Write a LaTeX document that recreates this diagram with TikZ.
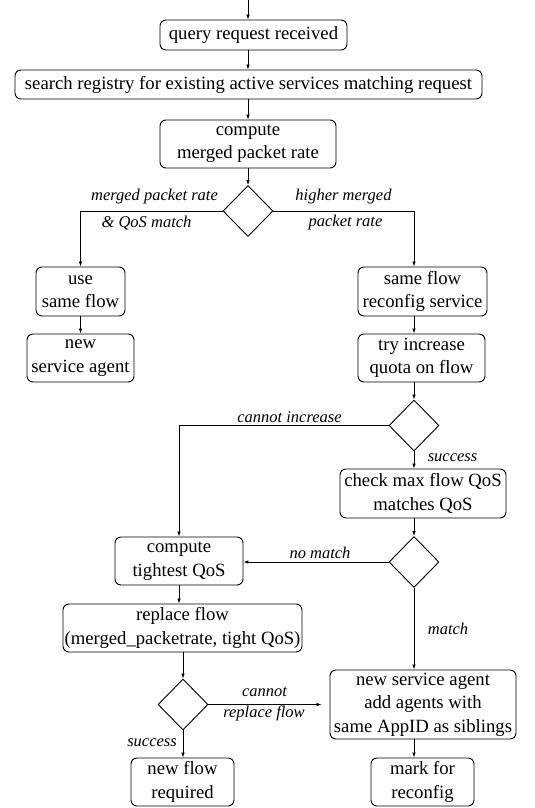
\documentclass[tikz,border=0pt]{standalone}
\usepackage{fontspec}
\setmainfont{Liberation Serif}
\usetikzlibrary{shapes.geometric,arrows.meta}
\begin{document}
\begin{tikzpicture}[x=1pt,y=-1pt,
  box/.style={draw,rounded corners=6pt,line width=0.9pt,inner sep=0pt,align=center,
    font=\fontsize{18.7}{23.5}\selectfont},
  dec/.style={draw,diamond,line width=0.9pt,inner sep=0pt,minimum width=50pt,minimum height=51pt},
  conn/.style={line width=0.7pt,-{Latex[length=5pt,width=3.5pt]}},
  lbl/.style={font=\fontsize{16.5}{20}\selectfont\itshape,inner sep=0pt}]
\useasboundingbox (0,0) rectangle (535,808);
\coordinate (top) at (248,0);
\node[box,minimum width=187pt,minimum height=30pt] (q) at (253.5,35) {query request received};
\node[box,minimum width=467pt,minimum height=29pt] (s) at (248.5,84.5) {search registry for existing active services matching request};
\node[box,minimum width=176pt,minimum height=48pt] (c) at (248,144) {compute\\ merged packet rate};
\node[dec] (d1) at (248,211) {};
\node[box,minimum width=89pt,minimum height=49pt] (use) at (80.5,291.5) {use\\same flow};
\node[box,minimum width=107pt,minimum height=48pt] (nsa1) at (80.5,358) {new\\service agent};
\node[box,minimum width=129pt,minimum height=49pt] (sf) at (422.5,291.5) {same flow\\reconfig service};
\node[box,minimum width=127pt,minimum height=48pt] (ti) at (421.5,358) {try increase\\quota on flow};
\node[dec] (d2) at (414,425.5) {};
\node[box,minimum width=166pt,minimum height=49pt] (cm) at (423,493.5) {check max flow QoS\\matches QoS};
\node[dec] (d3) at (414,562) {};
\node[box,minimum width=128pt,minimum height=48pt] (ct) at (179,561) {compute\\tightest QoS};
\node[box,minimum width=239pt,minimum height=48pt] (rf) at (182.5,628) {replace flow\\(merged\_packetrate, tight QoS)};
\node[dec] (d4) at (183,704.5) {};
\node[box,minimum width=103pt,minimum height=48pt] (nf) at (182.5,782) {new flow\\required};
\node[box,minimum width=186pt,minimum height=69pt] (nsa2) at (423,704.5) {new service agent\\add agents with\\same AppID as siblings};
\node[box,minimum width=103pt,minimum height=48pt] (mr) at (422.5,782) {mark for\\reconfig};
% connectors
\draw[conn] (top) -- (top |- q.north);
\draw[conn] (top |- q.south) -- (top |- s.north);
\draw[conn] (top |- s.south) -- (top |- c.north);
\draw[conn] (c.south) -- (d1.north);
\draw[conn] (d1.west) -| (use.north);
\draw[conn] (d1.east) -| (d2.north |- sf.north);
\draw[conn] (use.south) -- (use.south |- nsa1.north);
\draw[conn] (d2.north |- sf.south) -- (d2.north |- ti.north);
\draw[conn] (d2.north |- ti.south) -- (d2.north);
\draw[conn] (d2.west) -| (ct.north);
\draw[conn] (d2.south) -- (d2.south |- cm.north);
\draw[conn] (d3.north |- cm.south) -- (d3.north);
\draw[conn] (d3.west) -- (d3.west -| ct.east);
\draw[conn] (d3.south) -- (d3.south |- nsa2.north);
\draw[conn] (ct.south) -- (ct.south |- rf.north);
\draw[conn] (d4.north |- rf.south) -- (d4.north);
\draw[conn] (d4.south) -- (d4.south |- nf.north);
\draw[conn,shorten >=8pt] (d4.east) -- (d4.east -| nsa2.west);
\draw[conn] (d3.south |- nsa2.south) -- (d3.south |- mr.north);
% labels
\node[lbl] (l1) at (154.5,197) {merged packet rate};
\node[lbl] (l2) at (146.5,223) {\& QoS match};
\node[lbl] (l3) at (343.5,197) {higher merged};
\node[lbl] (l4) at (345.5,223) {packet rate};
\node[lbl] (l5) at (289.5,417) {cannot increase};
\node[lbl] (l6) at (452.5,458) {success};
\node[lbl] (l7) at (320,553) {no match};
\node[lbl] (l8) at (448,629) {match};
\node[lbl] (l9) at (264.5,692) {cannot};
\node[lbl] (l10) at (264,713) {replace flow};
\node[lbl] (l11) at (152,743) {success};
\end{tikzpicture}
\end{document}
